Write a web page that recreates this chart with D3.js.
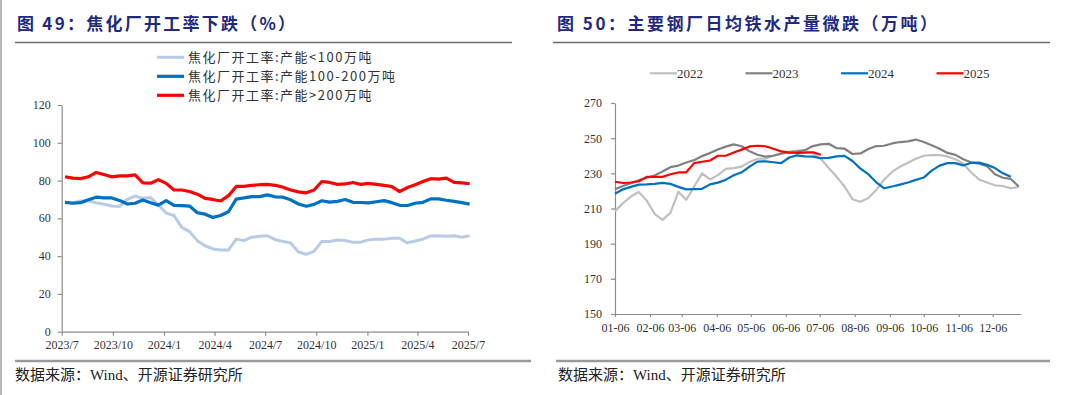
<!DOCTYPE html>
<html>
<head>
<meta charset="utf-8">
<script src="https://cdn.jsdelivr.net/npm/d3@7"></script>
<style>
  body { margin: 0; background: #fff; }
  svg { display: block; }
</style>
</head>
<body>
<div class="chart"></div>
<script>
/* ---------- left chart data: coke plant utilisation (%) ---------- */
const cokeDates = [
  "2023-07-07","2023-07-21","2023-08-04","2023-08-18","2023-09-01","2023-09-15","2023-09-29",
  "2023-10-13","2023-10-27","2023-11-10","2023-11-24","2023-12-08","2023-12-22","2024-01-05",
  "2024-01-19","2024-02-02","2024-02-16","2024-03-01","2024-03-15","2024-03-29","2024-04-12",
  "2024-04-26","2024-05-10","2024-05-24","2024-06-07","2024-06-21","2024-07-05","2024-07-19",
  "2024-08-02","2024-08-16","2024-08-30","2024-09-13","2024-09-27","2024-10-11","2024-10-25",
  "2024-11-08","2024-11-22","2024-12-06","2024-12-20","2025-01-03","2025-01-17","2025-01-31",
  "2025-02-14","2025-02-28","2025-03-14","2025-03-28","2025-04-11","2025-04-25","2025-05-09",
  "2025-05-23","2025-06-06","2025-06-20","2025-07-04"
];
const cokeSmall = [
  68.5,68.3,69.2,69.3,68.2,67.5,66.5,66.3,70,71.8,70.6,71,67,62.8,61.5,55.2,53,48.2,45.5,43.8,43.2,
  43.2,49,48.2,50,50.5,50.8,48.7,47.8,47,42.2,41,42.5,47.8,47.8,48.5,48.3,47.3,47.4,48.6,49,49,
  49.5,49.5,47,48,49,50.7,50.8,50.5,50.8,50,50.8
];
const cokeMid = [
  68.5,68,68.3,69.8,71.2,70.8,70.8,69.5,67.6,68,69.7,68.3,67,69.4,66.9,66.7,66.5,63,62.2,60.5,61.5,
  63.5,70.2,70.8,71.5,71.5,72.4,71.4,71.2,69.8,67.6,66.4,67.4,69.3,68.6,69,70,68.5,68.4,68.2,68.8,
  69.4,68.3,66.9,66.8,68,68.5,70.3,70.3,69.6,69,68.3,67.5
];
const cokeLarge = [
  82,81.3,81,82,84.3,83.2,82,82.5,82.5,83,78.8,78.6,80.5,78.5,75,75,74.2,72.8,70.6,70,69.2,
  72,76.9,76.9,77.5,77.8,78,77.5,76.5,75,74,73.5,75,79.5,79,78,78.2,79,78,78.5,78,77.5,
  76.8,74.2,76.3,77.8,79.5,81,80.8,81.3,79,78.8,78.3
];
const cokeNames = ["焦化厂开工率:产能<100万吨", "焦化厂开工率:产能100-200万吨", "焦化厂开工率:产能>200万吨"];
const cokeTicks = [0, 20, 40, 60, 80, 100, 120];

/* ---------- right chart data: daily hot metal output (10k t) ---------- */
const weekDays = [
  "01-06","01-13","01-20","01-27","02-03","02-10","02-17","02-24","03-03","03-10","03-17","03-24",
  "03-31","04-07","04-14","04-21","04-28","05-05","05-12","05-19","05-26","06-02","06-09","06-16",
  "06-23","06-30","07-07","07-14","07-21","07-28","08-04","08-11","08-18","08-25","09-01","09-08",
  "09-15","09-22","09-29","10-06","10-13","10-20","10-27","11-03","11-10","11-17","11-24","12-01",
  "12-08","12-15","12-22","12-29"
];
const iron2022 = [
  208.5,213,216.8,219.4,214.5,207,203.5,207.5,219.5,215,222.5,230,226.5,229,232.5,233,233.8,236.5,
  238.3,238.3,240,241.3,242.3,242.9,243,241.3,238.3,233,228,222.5,215.3,213.8,216,220.5,226.5,230.8,
  233.8,236,238.3,240,240.4,240.4,239.6,238,235.5,230.5,226.5,224.8,223.2,222.8,221.5,222.2
];
const iron2023 = [
  220.9,222.8,224.4,226,227.5,228.8,231,233.5,234.4,236.2,237.5,239.8,241.5,243.6,245.2,246.5,245.4,
  242.5,240.6,239.5,240,241.2,242,242.4,243.2,245.5,246.5,246.8,244.3,244,241,241.3,243.8,245.5,
  245.7,247,247.8,248.2,249.2,247.8,246,244,241.6,240.5,238,236.2,235.5,234,229.5,227.5,226.8,222.5
];
const iron2024 = [
  218.4,220.9,222.3,223.6,223.7,224,224.6,224,222.3,220.9,221,221.2,223.7,224.7,226.4,228.9,230.6,
  233.8,236.7,236.8,236.3,235.8,239,240.2,239.6,239.5,238.6,238.8,239.6,239.9,237,232.7,229.5,224.9,
  221.5,222.5,223.6,224.8,226.3,227.6,231.5,234.4,235.8,235.8,234.5,236,236.1,234.8,233,230,228
];
const iron2025 = [
  225.2,224.5,224.8,225.5,228,228,228,229.5,230.5,230.6,235.8,236.6,237.3,240,240,241.8,243.5,245.3,
  245.7,245.4,244,242.5,241.8,241.6,241.8,242,240.6
];
const ironYears = ["2022", "2023", "2024", "2025"];
const ironTicks = [150, 170, 190, 210, 230, 250, 270];

/* ---------- svg ---------- */
const width = 1080;
const height = 395;
const svg = d3.select(".chart").append("svg")
  .attr("width", width)
  .attr("height", height)
  .attr("viewBox", [0, 0, width, height]);

const serif = "'Liberation Serif', 'Times New Roman', 'Noto Sans CJK SC', serif";
const cjk = "'Noto Sans CJK SC', 'Liberation Serif', sans-serif";
const titleColor = "#1f2a7f";
const axisColor = "#8c8c8c";

/* page edge line on the left */
svg.append("line")
  .attr("x1", 1).attr("x2", 1).attr("y1", 0).attr("y2", height)
  .attr("stroke", "#a0a0a0").attr("stroke-width", 1.5);

/* titles, rules and source notes */
const panels = [
  {title: "图 49：焦化厂开工率下跌（%）", tx: 17, tlen: 278, r1: [15, 512], r2: [15, 531], sx: 15},
  {title: "图 50：主要钢厂日均铁水产量微跌（万吨）", tx: 557, tlen: 380, r1: [553, 1050], r2: [556, 1050], sx: 558}
];
panels.forEach(p => {
  svg.append("text")
    .attr("x", p.tx).attr("y", 30)
    .attr("textLength", p.tlen).attr("lengthAdjust", "spacing")
    .style("font-family", cjk).style("font-weight", 700).style("font-size", "17px")
    .attr("fill", titleColor)
    .text(p.title);
  svg.append("line")
    .attr("x1", p.r1[0]).attr("x2", p.r1[1]).attr("y1", 42.5).attr("y2", 42.5)
    .attr("stroke", "#6b6b6b").attr("stroke-width", 1.5);
  svg.append("line")
    .attr("x1", p.r2[0]).attr("x2", p.r2[1]).attr("y1", 361).attr("y2", 361)
    .attr("stroke", "#9a9a9a").attr("stroke-width", 2.5);
  svg.append("text")
    .attr("x", p.sx).attr("y", 380)
    .style("font-family", serif).style("font-size", "15px")
    .attr("fill", "#222")
    .text("数据来源：Wind、开源证券研究所");
});

/* shared axis styling */
function styleAxis(g) {
  g.select(".domain").attr("stroke", axisColor).attr("stroke-width", 1.2);
  g.selectAll(".tick line").attr("stroke", axisColor).attr("stroke-width", 1.2);
  g.selectAll(".tick text")
    .style("font-family", serif).style("font-size", "12px").attr("fill", "#333");
}

/* ================= left chart ================= */
const parseDay = d3.timeParse("%Y-%m-%d");
const xL = d3.scaleTime()
  .domain([parseDay("2023-07-01"), parseDay("2025-07-01")])
  .range([61.7, 468]);
const yL = d3.scaleLinear()
  .domain([0, 120])
  .range([331.7, 105]);

const leftTicks = [];
for (let y = 2023; y <= 2025; y++) {
  [1, 4, 7, 10].forEach(m => {
    const d = new Date(y, m - 1, 1);
    if (d >= xL.domain()[0] && d <= xL.domain()[1]) leftTicks.push(d);
  });
}

svg.append("g")
  .attr("transform", `translate(0,${yL(0)})`)
  .call(d3.axisBottom(xL).tickValues(leftTicks).tickFormat(d3.timeFormat("%Y/%-m")).tickSize(4).tickSizeOuter(0).tickPadding(4.5))
  .call(styleAxis);

svg.append("g")
  .attr("transform", `translate(${xL.range()[0]},0)`)
  .call(d3.axisLeft(yL).tickValues(cokeTicks).tickSize(4).tickSizeOuter(0).tickPadding(7))
  .call(styleAxis)
  .call(g => g.selectAll(".tick text").attr("dy", "0.3em"));

const cokeSeries = [
  {values: cokeSmall, color: "#b7cbe6", w: 3},
  {values: cokeMid, color: "#0070c0", w: 3.2},
  {values: cokeLarge, color: "#ff0000", w: 3.2}
];
const lineL = d3.line()
  .x((d, i) => xL(parseDay(cokeDates[i])))
  .y(d => yL(d));

svg.append("g")
  .selectAll("path")
  .data(cokeSeries)
  .join("path")
    .attr("d", d => lineL(d.values))
    .attr("fill", "none")
    .attr("stroke", d => d.color)
    .attr("stroke-width", d => d.w)
    .attr("stroke-linejoin", "round");

/* left legend */
const legL = svg.append("g")
  .selectAll("g")
  .data(cokeSeries)
  .join("g")
    .attr("transform", (d, i) => `translate(157,${57.3 + i * 19})`);
legL.append("line")
  .attr("x1", 0).attr("x2", 27)
  .attr("stroke", d => d.color)
  .attr("stroke-width", d => d.w);
legL.append("text")
  .attr("x", 31).attr("dy", "0.35em")
  .style("font-family", cjk).style("font-size", "13px").style("letter-spacing", "1.5px")
  .attr("fill", "#333")
  .text((d, i) => cokeNames[i]);

/* ================= right chart ================= */
const parseMD = d3.timeParse("%Y-%m-%d");
const xR = d3.scaleTime()
  .domain([parseMD("2025-01-06"), parseMD("2025-12-31")])
  .range([615, 1021]);
const yR = d3.scaleLinear()
  .domain([150, 270])
  .range([314, 103]);

const rightTicks = d3.range(1, 13).map(m => new Date(2025, m - 1, 6));

svg.append("g")
  .attr("transform", `translate(0,${yR(150)})`)
  .call(d3.axisBottom(xR).tickValues(rightTicks).tickFormat(d3.timeFormat("%m-%d")).tickSize(3).tickSizeOuter(0).tickPadding(6))
  .call(styleAxis);

svg.append("g")
  .attr("transform", `translate(${xR.range()[0]},0)`)
  .call(d3.axisLeft(yR).tickValues(ironTicks).tickSize(4).tickSizeOuter(0).tickPadding(9))
  .call(styleAxis);

const ironSeries = [
  {values: iron2022, color: "#bfbfbf"},
  {values: iron2023, color: "#808080"},
  {values: iron2024, color: "#0070c0"},
  {values: iron2025, color: "#ff0000"}
];
const lineR = d3.line()
  .x((d, i) => xR(parseMD("2025-" + weekDays[i])))
  .y(d => yR(d));

svg.append("g")
  .selectAll("path")
  .data(ironSeries)
  .join("path")
    .attr("d", d => lineR(d.values))
    .attr("fill", "none")
    .attr("stroke", d => d.color)
    .attr("stroke-width", 2.2)
    .attr("stroke-linejoin", "round");

/* right legend */
const legR = svg.append("g")
  .selectAll("g")
  .data(ironSeries)
  .join("g")
    .attr("transform", (d, i) => `translate(${650 + i * 95.5},73.3)`);
legR.append("line")
  .attr("x1", 0).attr("x2", 27)
  .attr("stroke", d => d.color)
  .attr("stroke-width", 2.2);
legR.append("text")
  .attr("x", 27).attr("dy", "0.35em")
  .style("font-family", serif).style("font-size", "13px")
  .attr("fill", "#333")
  .text((d, i) => ironYears[i]);
</script>
</body>
</html>
